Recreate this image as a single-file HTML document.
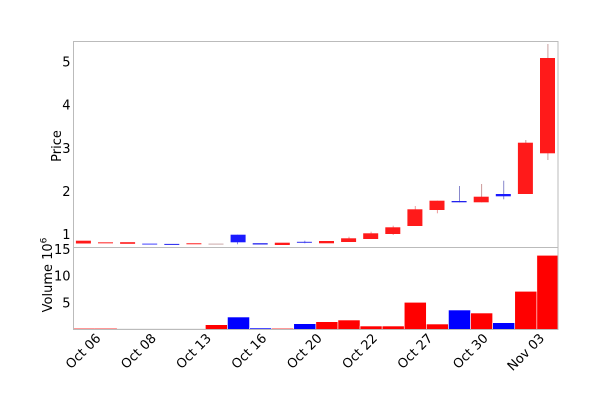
<!DOCTYPE html>
<html>
<head>
<meta charset="utf-8">
<style>
  html, body { margin: 0; padding: 0; background: #ffffff; }
  svg { display: block; }
  text { font-family: "DejaVu Sans", "Liberation Sans", sans-serif; fill: #000; }
</style>
</head>
<body>
<svg width="600" height="414" viewBox="0 0 600 414" xmlns="http://www.w3.org/2000/svg">
  <rect x="0" y="0" width="600" height="414" fill="#ffffff"/>

  <defs>
    <clipPath id="volclip"><rect x="73.5" y="247.5" width="484.5" height="82"/></clipPath>
  </defs>

  <!-- Volume bars -->
  <g clip-path="url(#volclip)" stroke="#ffffff" stroke-width="0.6">
    <rect x="72.75" y="328.6" width="22.1" height="1" fill="#ff0000" stroke="none"/>
    <rect x="94.85" y="328.6" width="22.1" height="1" fill="#ff0000" stroke="none"/>
    <rect x="116.95" y="328.8" width="22.1" height="0.8" fill="#bbbbbb" stroke="none"/>
    <rect x="139.05" y="328.8" width="22.1" height="0.8" fill="#bbbbbb" stroke="none"/>
    <rect x="161.15" y="328.8" width="22.1" height="0.8" fill="#bbbbbb" stroke="none"/>
    <rect x="183.25" y="328.8" width="22.1" height="0.8" fill="#bbbbbb" stroke="none"/>
    <rect x="205.35" y="324.7" width="22.1" height="5" fill="#ff0000"/>
    <rect x="227.45" y="317" width="22.1" height="12.7" fill="#0000ff"/>
    <rect x="249.55" y="328" width="22.1" height="1.6" fill="#0000ff"/>
    <rect x="271.65" y="328.3" width="22.1" height="1.3" fill="#ff0000"/>
    <rect x="293.75" y="323.7" width="22.1" height="6" fill="#0000ff"/>
    <rect x="315.85" y="321.7" width="22.1" height="8" fill="#ff0000"/>
    <rect x="337.95" y="320" width="22.1" height="9.7" fill="#ff0000"/>
    <rect x="360.05" y="326" width="22.1" height="3.7" fill="#ff0000"/>
    <rect x="382.15" y="326" width="22.1" height="3.7" fill="#ff0000"/>
    <rect x="404.25" y="302.3" width="22.1" height="27.4" fill="#ff0000"/>
    <rect x="426.35" y="324" width="22.1" height="5.7" fill="#ff0000"/>
    <rect x="448.45" y="310" width="22.1" height="19.7" fill="#0000ff"/>
    <rect x="470.55" y="313" width="22.1" height="16.7" fill="#ff0000"/>
    <rect x="492.65" y="322.7" width="22.1" height="7" fill="#0000ff"/>
    <rect x="514.75" y="291.3" width="22.1" height="38.4" fill="#ff0000"/>
    <rect x="536.85" y="255.3" width="22.1" height="74.4" fill="#ff0000"/>
  </g>

  <!-- Candle wicks -->
  <g stroke-width="1">
    <line x1="237.5" y1="234.7" x2="237.5" y2="244.3" stroke="#8888ee"/>
    <line x1="304.8" y1="240.7" x2="304.8" y2="243.3" stroke="#8888ee"/>
    <line x1="349.0" y1="236.7" x2="349.0" y2="242" stroke="#ee9999"/>
    <line x1="371.1" y1="231.7" x2="371.1" y2="239" stroke="#ee9999"/>
    <line x1="393.2" y1="225.7" x2="393.2" y2="235" stroke="#ee9999"/>
    <line x1="415.3" y1="206" x2="415.3" y2="226" stroke="#ee9999"/>
    <line x1="437.4" y1="200.7" x2="437.4" y2="213.3" stroke="#ee9999"/>
    <line x1="459.5" y1="186" x2="459.5" y2="202.3" stroke="#8888cc"/>
    <line x1="481.6" y1="184" x2="481.6" y2="202.3" stroke="#cc9999"/>
    <line x1="503.7" y1="180.7" x2="503.7" y2="199.3" stroke="#8888cc"/>
    <line x1="525.8" y1="140" x2="525.8" y2="194" stroke="#cc9999"/>
    <line x1="547.9" y1="44" x2="547.9" y2="160" stroke="#c8a0a0"/>
  </g>

  <!-- Candle bodies -->
  <g>
    <rect x="75.9" y="240.7" width="15" height="2.8" fill="#ff1a1a"/>
    <rect x="98.0" y="242.2" width="15" height="1.2" fill="#ff4444"/>
    <rect x="120.1" y="242.2" width="15" height="1.6" fill="#ff1a1a"/>
    <rect x="142.2" y="243.6" width="15" height="1" fill="#4444ff"/>
    <rect x="164.3" y="243.9" width="15" height="1" fill="#2222ee"/>
    <rect x="186.4" y="243.2" width="15" height="1.1" fill="#ff3333"/>
    <rect x="208.5" y="243.6" width="15" height="1" fill="#cca8a8"/>
    <rect x="230.6" y="234.7" width="15" height="7.6" fill="#1a1aff"/>
    <rect x="252.7" y="243.2" width="15" height="1.3" fill="#2222ee"/>
    <rect x="274.8" y="242.7" width="15" height="2.3" fill="#ff1a1a"/>
    <rect x="296.9" y="241.8" width="15" height="1" fill="#3333ee"/>
    <rect x="319.0" y="241" width="15" height="2.3" fill="#ff1a1a"/>
    <rect x="341.1" y="238.3" width="15" height="3.7" fill="#ff1a1a"/>
    <rect x="363.2" y="233.3" width="15" height="5.7" fill="#ff1a1a"/>
    <rect x="385.3" y="227.3" width="15" height="6.7" fill="#ff1a1a"/>
    <rect x="407.4" y="209.3" width="15" height="16.7" fill="#ff1a1a"/>
    <rect x="429.5" y="200.7" width="15" height="9.3" fill="#ff1a1a"/>
    <rect x="451.6" y="201" width="15" height="1.3" fill="#2222ee"/>
    <rect x="473.7" y="196.7" width="15" height="5.6" fill="#ff1a1a"/>
    <rect x="495.8" y="194" width="15" height="2.3" fill="#1a1aff"/>
    <rect x="517.9" y="142.7" width="15" height="51.3" fill="#ff1a1a"/>
    <rect x="540.0" y="58" width="15" height="95.3" fill="#ff1a1a"/>
  </g>

  <!-- Axes frames -->
  <g fill="none" stroke="#bbbbbb" stroke-width="1">
    <rect x="73.5" y="41.5" width="484.5" height="288"/>
    <line x1="73.5" y1="247.5" x2="558" y2="247.5"/>
  </g>

  <!-- Price tick labels -->
  <g font-size="13" text-anchor="end">
    <text x="70.5" y="66.6">5</text>
    <text x="70.5" y="109.7">4</text>
    <text x="70.5" y="152.8">3</text>
    <text x="70.5" y="195.9">2</text>
    <text x="70.5" y="239">1</text>
  </g>

  <!-- Volume tick labels -->
  <g font-size="13" text-anchor="end">
    <text x="70.5" y="253.8">15</text>
    <text x="70.5" y="280.5">10</text>
    <text x="70.5" y="307.7">5</text>
  </g>

  <!-- Axis labels -->
  <text x="0" y="0" font-size="13" text-anchor="middle" transform="translate(61,146) rotate(-90)">Price</text>
  <text x="0" y="0" font-size="13" text-anchor="middle" transform="translate(52,275) rotate(-90)">Volume  10<tspan font-size="9" dy="-5.5">6</tspan></text>

  <!-- X tick labels -->
  <g font-size="13" text-anchor="middle">
    <text x="0" y="4.6" transform="translate(83,351) rotate(-45)">Oct 06</text>
    <text x="0" y="4.6" transform="translate(138.3,351) rotate(-45)">Oct 08</text>
    <text x="0" y="4.6" transform="translate(193.5,351) rotate(-45)">Oct 13</text>
    <text x="0" y="4.6" transform="translate(248.8,351) rotate(-45)">Oct 16</text>
    <text x="0" y="4.6" transform="translate(304.2,351) rotate(-45)">Oct 20</text>
    <text x="0" y="4.6" transform="translate(359.5,351) rotate(-45)">Oct 22</text>
    <text x="0" y="4.6" transform="translate(414.8,351) rotate(-45)">Oct 27</text>
    <text x="0" y="4.6" transform="translate(470.2,351) rotate(-45)">Oct 30</text>
    <text x="0" y="4.6" transform="translate(525.6,352) rotate(-45)">Nov 03</text>
  </g>
</svg>
</body>
</html>
